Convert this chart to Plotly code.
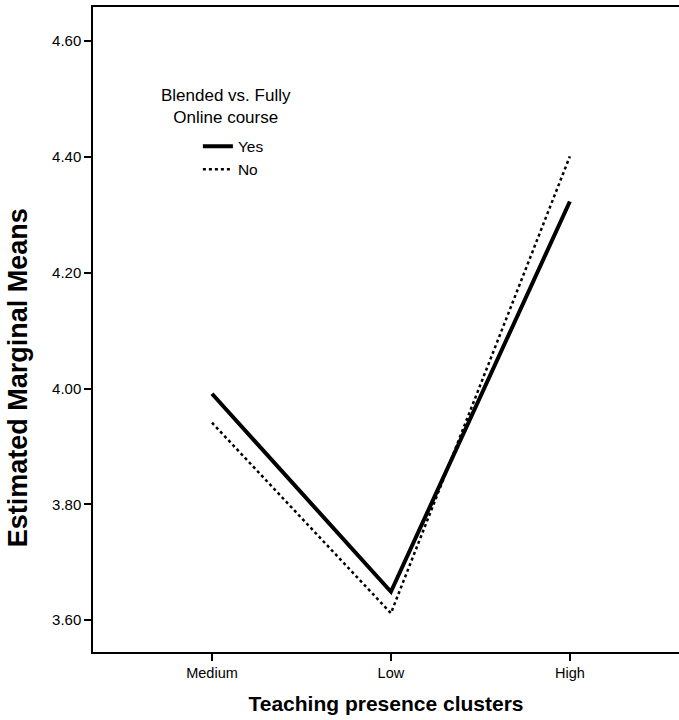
import plotly.graph_objects as go

categories = ["Medium", "Low", "High"]
yes_values = [3.991, 3.649, 4.323]
no_values = [3.941, 3.612, 4.401]
y_ticks = [3.60, 3.80, 4.00, 4.20, 4.40, 4.60]
y_ticklabels = ["3.60", "3.80", "4.00", "4.20", "4.40", "4.60"]
legend_title = "Blended vs. Fully<br>Online course"
y_title = "<b>Estimated Marginal Means</b>"
x_title = "<b>Teaching presence clusters</b>"

font = "Liberation Sans, Arial, sans-serif"

fig = go.Figure()
fig.add_trace(go.Scatter(x=[0, 1, 2], y=yes_values, mode="lines", name="Yes",
                         line=dict(color="black", width=4)))
fig.add_trace(go.Scatter(x=[0, 1, 2], y=no_values, mode="lines", name="No",
                         line=dict(color="black", width=2.5, dash="dot")))

fig.add_annotation(text=legend_title, xref="paper", yref="paper",
                   x=0.227, y=0.845, xanchor="center", yanchor="middle",
                   showarrow=False, align="center",
                   font=dict(size=17, family=font, color="black"))

# y-axis title placed as a rotated annotation (SPSS puts it slightly below centre)
fig.add_annotation(text=y_title, xref="paper", yref="paper",
                   x=-0.129, y=0.425, xanchor="center", yanchor="middle",
                   textangle=-90, showarrow=False,
                   font=dict(size=27, family=font, color="black"))

fig.update_layout(
    width=679, height=720,
    margin=dict(l=93, r=0, t=7, b=68),
    plot_bgcolor="white", paper_bgcolor="white",
    font=dict(family=font, color="black", size=15),
    showlegend=True,
    legend=dict(
        x=0.179, y=0.810, xanchor="left", yanchor="top",
        bgcolor="rgba(0,0,0,0)", font=dict(size=15.5, family=font),
        tracegroupgap=0, itemwidth=30,
    ),
    xaxis=dict(
        range=[-0.665, 2.61], tickmode="array", tickvals=[0, 1, 2], ticktext=categories,
        showline=True, linecolor="black", linewidth=1.5, mirror=True,
        ticks="outside", ticklen=7, tickwidth=1.5, tickcolor="black",
        showgrid=False, zeroline=False, tickfont=dict(size=14.5), automargin=False,
        title=dict(text=x_title, font=dict(size=21), standoff=16),
    ),
    yaxis=dict(
        range=[3.545, 4.659], tickmode="array", tickvals=y_ticks, ticktext=y_ticklabels,
        showline=True, linecolor="black", linewidth=1.5, mirror=False,
        ticks="outside", ticklen=7, tickwidth=1.5, tickcolor="black",
        showgrid=False, zeroline=False, tickfont=dict(size=15), automargin=False,
    ),
)

fig.write_html("out.html", config={"displayModeBar": False},
               post_script="document.body.style.margin='0';document.body.style.overflow='hidden';")
